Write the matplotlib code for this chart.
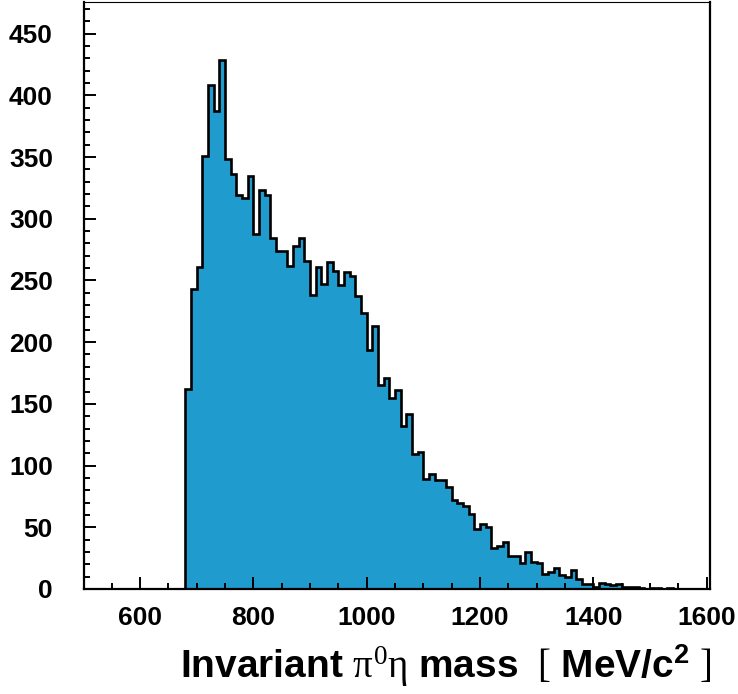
import matplotlib
matplotlib.use('Agg')
import matplotlib.pyplot as plt
from matplotlib.ticker import MultipleLocator
import numpy as np

# invariant pi0 eta mass histogram, 10 MeV bins starting at 680 MeV
bin_start = 680
bin_width = 10
counts = [162, 243, 261, 351, 408, 387, 429, 348, 336, 319,
          317, 335, 288, 323, 319, 284, 274, 274, 262, 278,
          284, 266, 238, 261, 247, 265, 258, 246, 257, 254,
          237, 224, 194, 213, 165, 171, 155, 161, 132, 142,
          109, 111, 89, 93, 88, 88, 83, 72, 70, 67,
          61, 49, 53, 50, 33, 35, 38, 27, 27, 21,
          30, 22, 21, 12, 14, 17, 11, 10, 15, 8,
          4, 4, 2, 5, 4, 3, 4, 2, 2, 2,
          1, 0, 1, 1, 0, 1, 0, 0, 0, 0, 0, 0]

x_ticks = [600, 800, 1000, 1200, 1400, 1600]
y_ticks = [0, 50, 100, 150, 200, 250, 300, 350, 400, 450]

plt.rcParams['font.family'] = ['Liberation Sans', 'DejaVu Sans']
plt.rcParams['mathtext.fontset'] = 'custom'
plt.rcParams['mathtext.rm'] = 'Liberation Serif'
plt.rcParams['mathtext.it'] = 'Liberation Serif'
plt.rcParams['mathtext.bf'] = 'Liberation Sans:bold'

W, H = 738, 694
fig = plt.figure(figsize=(W / 100, H / 100), dpi=100)
ax = fig.add_axes([83.5 / W, (H - 589) / H, (709.5 - 83.5) / W, (589 - 1.5) / H])

edges = bin_start + bin_width * np.arange(len(counts) + 1)
ax.stairs(counts, edges, fill=True, color='#1f9bce', baseline=0)
ax.stairs(counts, edges, color='black', linewidth=1.9, baseline=0)

ax.set_xlim(500, 1605)
ax.set_ylim(0, 476)

ax.set_xticks(x_ticks)
ax.set_yticks(y_ticks)
ax.xaxis.set_minor_locator(MultipleLocator(50))
ax.yaxis.set_minor_locator(MultipleLocator(10))
ax.tick_params(which='both', direction='in', top=False, right=False, width=1.4)
ax.tick_params(which='major', length=8.5)
ax.tick_params(which='minor', length=4.3)
ax.tick_params(axis='x', which='major', pad=12, labelsize=19)
ax.tick_params(axis='y', which='major', pad=22, labelsize=19)
for lab in ax.get_xticklabels() + ax.get_yticklabels():
    lab.set_fontweight('bold')

for side in ['left', 'bottom', 'right']:
    ax.spines[side].set_linewidth(1.6)
ax.spines['top'].set_linewidth(0.8)

fig.text(712 / W, (H - 678) / H,
         r'$\mathbf{Invariant}\ \pi^{0}\eta\ \mathbf{mass}\ \ [\ \mathbf{MeV/c^{2}}\ ]$',
         fontsize=28, ha='right', va='baseline')

fig.savefig('out.png', dpi=100)
